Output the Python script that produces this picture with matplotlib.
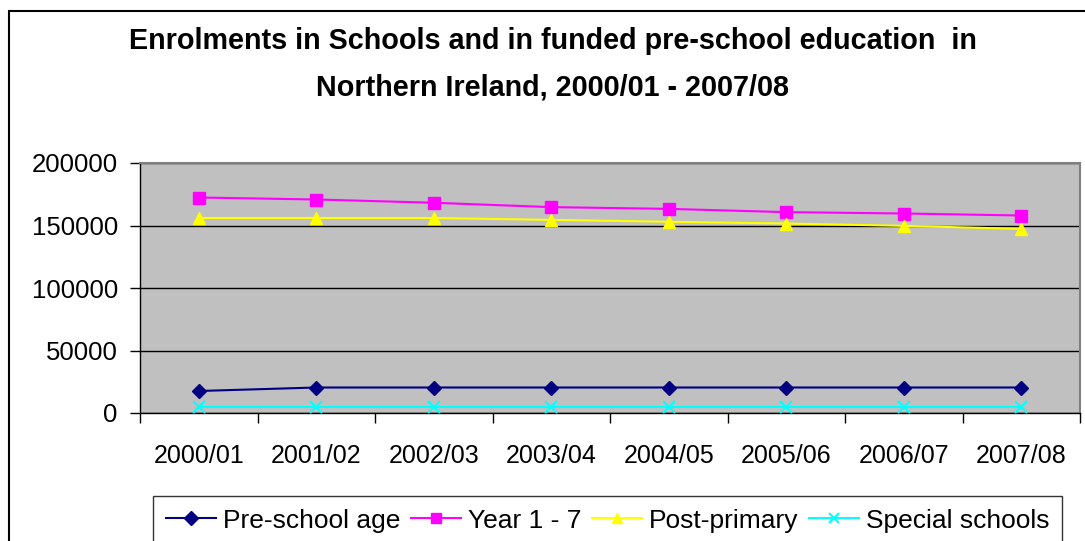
import numpy as np
import matplotlib
matplotlib.use("Agg")
import matplotlib.pyplot as plt
from matplotlib.patches import Rectangle

plt.rcParams['font.family'] = ['Liberation Sans', 'DejaVu Sans']

# data
years = ["2000/01", "2001/02", "2002/03", "2003/04", "2004/05", "2005/06", "2006/07", "2007/08"]
pre_school = [17600, 20400, 20400, 20400, 20400, 20400, 20400, 20400]
year_1_7 = [172400, 170800, 168200, 164700, 163300, 160700, 159600, 158000]
post_primary = [156000, 156000, 156000, 154500, 153000, 151600, 149700, 147300]
special = [4600, 4600, 4600, 4600, 4600, 4600, 4600, 4600]

W, H = 1085, 541
fig = plt.figure(figsize=(W / 100, H / 100), dpi=100)

# outer chart border (only top and left are visible in the crop)
fig.patches.append(Rectangle((9 / W, -0.1), 1.2, 1 - 11 / H + 0.1, transform=fig.transFigure,
                             fill=False, edgecolor='black', linewidth=1.5))

ax = fig.add_axes([140 / W, 1 - 413 / H, 940 / W, 250 / H])
ax.set_facecolor('#C0C0C0')

x = np.arange(len(years))
ax.plot(x, pre_school, color='#000080', marker='D', markersize=7, linewidth=1.5,
        label='Pre-school age', zorder=3)
ax.plot(x, year_1_7, color='#FF00FF', marker='s', markersize=8, linewidth=1.5,
        label='Year 1 - 7', zorder=3)
ax.plot(x, post_primary, color='#FFFF00', marker='^', markersize=9, linewidth=1.5,
        label='Post-primary', zorder=3)
ax.plot(x, special, color='#00FFFF', marker='x', markersize=8, markeredgewidth=1.5,
        linewidth=1.5, label='Special schools', zorder=3)

ax.set_xlim(-0.5, len(years) - 0.5)
ax.set_ylim(0, 200000)
ax.set_yticks([0, 50000, 100000, 150000, 200000])
ax.yaxis.grid(True, color='black', linewidth=1)
ax.set_axisbelow(True)

ax.set_xticks(x)
ax.set_xticklabels(years)
ax.set_xticks(np.arange(-0.5, len(years)), minor=True)
ax.tick_params(axis='x', which='major', length=0, pad=22, labelsize=18)
ax.tick_params(axis='x', which='minor', length=7, width=1, direction='out')
ax.tick_params(axis='y', length=7, width=1, pad=9, labelsize=18.5)

for s in ['top', 'right']:
    ax.spines[s].set_color('#808080')
    ax.spines[s].set_linewidth(1.5)
for s in ['left', 'bottom']:
    ax.spines[s].set_color('black')
    ax.spines[s].set_linewidth(1)

fig.text(553 / W, 1 - 49 / H, "Enrolments in Schools and in funded pre-school education  in",
         ha='center', va='baseline', fontsize=20.7, fontweight='bold')
fig.text(553 / W, 1 - 95 / H, "Northern Ireland, 2000/01 - 2007/08",
         ha='center', va='baseline', fontsize=20.7, fontweight='bold')

leg = fig.legend(loc='upper left', bbox_to_anchor=(153 / W, 1 - 496 / H), ncol=4,
                 fontsize=19, frameon=True, fancybox=False, edgecolor='black',
                 handlelength=1.9, handletextpad=0.28, columnspacing=0.38,
                 borderaxespad=0, borderpad=0.48)
leg.get_frame().set_linewidth(1)
for h in leg.legend_handles:
    h.set_markersize(7)

fig.savefig("out.png", dpi=100)
